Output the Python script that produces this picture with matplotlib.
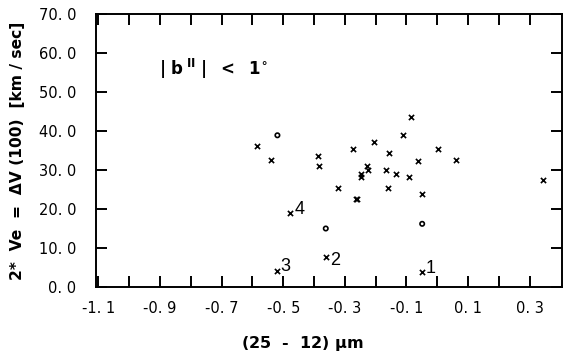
import matplotlib
matplotlib.use("Agg")
import matplotlib.pyplot as plt
import numpy as np

# cross-marked sources
x_cross = [-0.586, -0.540, -0.386, -0.385, -0.322, -0.273, -0.265, -0.259, -0.249, -0.249,
           -0.229, -0.224, -0.207, -0.166, -0.157, -0.159, -0.134, -0.112, -0.091, -0.086,
           -0.062, -0.051, 0.001, 0.061, 0.344]
y_cross = [36.2, 32.6, 33.6, 30.9, 25.5, 35.3, 22.6, 22.6, 29.0, 28.1,
           31.1, 30.0, 37.1, 30.0, 34.4, 25.5, 29.1, 39.0, 28.1, 43.5,
           32.2, 23.8, 35.4, 32.6, 27.4]
# circle-marked sources
x_circle = [-0.519, -0.362, -0.049]
y_circle = [38.9, 15.0, 16.2]
# numbered sources
x_num = [-0.050, -0.362, -0.520, -0.477]
y_num = [3.8, 7.6, 4.1, 19.1]
num_labels = ["1", "2", "3", "4"]

xticks = [-1.1, -1.0, -0.9, -0.8, -0.7, -0.6, -0.5, -0.4, -0.3, -0.2, -0.1, 0.0, 0.1, 0.2, 0.3]
xticklabels = ["-1. 1", "", "-0. 9", "", "-0. 7", "", "-0. 5", "", "-0. 3", "", "-0. 1", "", "0. 1", "", "0. 3"]
yticks = [0, 10, 20, 30, 40, 50, 60, 70]
yticklabels = ["0. 0", "10. 0", "20. 0", "30. 0", "40. 0", "50. 0", "60. 0", "70. 0"]

plt.rcParams['font.family'] = ['DejaVu Sans']

fig = plt.figure(figsize=(5.69, 3.58), dpi=100)
ax = fig.add_axes([96/569, 71/358, 466/569, 273/358])

ax.scatter(x_cross, y_cross, marker='x', s=14, c='black', linewidths=1.2)
ax.scatter(x_circle, y_circle, marker='o', s=10, facecolors='none', edgecolors='black', linewidths=1.2)
ax.scatter(x_num, y_num, marker='x', s=14, c='black', linewidths=1.2)

offsets = {"1": (3, 3), "2": (3, -2), "3": (2, 3), "4": (3, 2)}
for xv, yv, lab in zip(x_num, y_num, num_labels):
    dx, dy = offsets[lab]
    ax.annotate(lab, (xv, yv), xytext=(dx, dy), textcoords='offset points',
                fontsize=13, ha='left', va='center', family='Liberation Sans')

ax.text(-0.905, 56.0, r"$\mathbf{|\ b^{\ II}\ |\ \ <\ \ 1^{\circ}}$", fontsize=12,
        ha='left', va='center')

ax.set_xlim(-1.108, 0.405)
ax.set_ylim(0, 70)
ax.set_xticks(xticks)
ax.set_xticklabels(xticklabels, fontsize=10.5)
ax.set_yticks(yticks)
ax.set_yticklabels(yticklabels, fontsize=10.5)
ax.tick_params(direction='in', length=8, width=1.4, top=True, right=True)
ax.tick_params(axis='x', pad=10)
ax.tick_params(axis='y', pad=14)
for s in ax.spines.values():
    s.set_linewidth(1.4)

ax.set_xlabel(r"(25  -  12) $\mathregular{\mu}$m", fontsize=11.5, fontweight='bold')
ax.xaxis.set_label_coords(0.442, -0.172)
ax.set_ylabel("2*  Ve  =  ΔV (100)  [km / sec]", fontsize=11.2, fontweight='bold')
ax.yaxis.set_label_coords(-0.152, 0.50)

fig.savefig("out.png", dpi=100)
